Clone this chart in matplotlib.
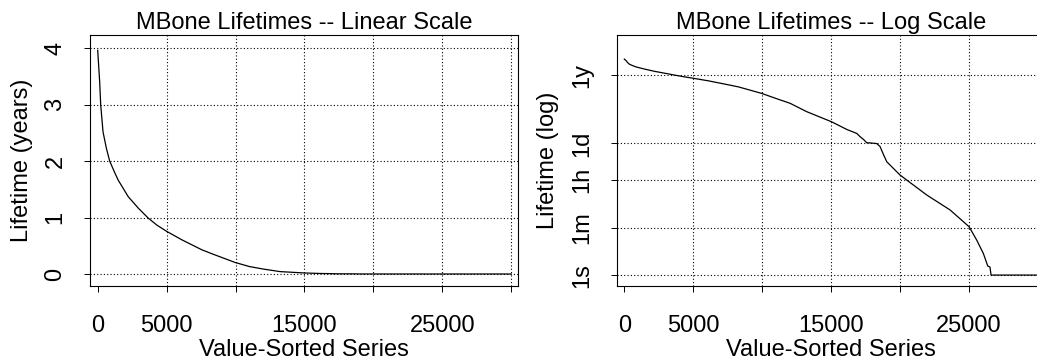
import matplotlib
matplotlib.use("Agg")
import matplotlib.pyplot as plt

plt.rcParams['font.family'] = ['Liberation Sans', 'DejaVu Sans']

# ---- data ----
series_index = [0, 145, 217, 386, 628, 870, 1230, 1495, 2220, 2946, 3672, 4300,
                5007, 6096, 7547, 8273, 9964, 11000, 12017, 13227, 15011, 16127,
                16852, 17090, 17330, 17576, 17815, 18300, 18540, 18780, 19025,
                19990, 21930, 23620, 25000, 25550, 26030, 26350, 26510, 26590,
                30000]
# lifetime as log10(seconds)
lifetime_log10_s = [8.097, 8.030, 7.976, 7.900, 7.847, 7.800, 7.754, 7.719, 7.635,
                    7.566, 7.494, 7.436, 7.377, 7.282, 7.132, 7.055, 6.81, 6.62,
                    6.44, 6.125, 5.75, 5.46, 5.31, 5.19, 5.09, 4.96, 4.955, 4.93,
                    4.82, 4.53, 4.25, 3.75, 3.0, 2.44, 1.81, 1.31, 0.81, 0.34,
                    0.30, 0.0, 0.0]
SECONDS_PER_YEAR = 31536000
lifetime_seconds = [10 ** v for v in lifetime_log10_s]
lifetime_years = [s / SECONDS_PER_YEAR for s in lifetime_seconds]

x_ticks = [0, 5000, 10000, 15000, 20000, 25000, 30000]
x_tick_labels = ["0", "5000", "", "15000", "", "25000", ""]
lin_y_ticks = [0, 1, 2, 3, 4]
lin_y_labels = ["0", "1", "2", "3", "4"]
log_y_ticks = [1, 60, 3600, 86400, 31536000]
log_y_labels = ["1s", "1m", "1h", "1d", "1y"]

titles = ["MBone Lifetimes -- Linear Scale", "MBone Lifetimes -- Log Scale"]
y_labels = ["Lifetime (years)", "Lifetime (log)"]
x_label = "Value-Sorted Series"

W, H = 1037, 360
fig = plt.figure(figsize=(W / 100, H / 100), dpi=100)
ax1 = fig.add_axes([90 / W, 1 - 286 / H, 428 / W, 251 / H])
ax2 = fig.add_axes([617 / W, 1 - 286 / H, 428 / W, 251 / H])

FS = 17
grid_kw = dict(color='black', linewidth=0.8, linestyle=(0, (1, 2)), zorder=1)


def style(ax, yticks, ylabels, title, ylabel):
    ax.set_xticks(x_ticks)
    ax.set_xticklabels(x_tick_labels)
    ax.set_yticks(yticks)
    ax.set_yticklabels(ylabels)
    ax.minorticks_off()
    for xt in x_ticks[1:]:
        ax.axvline(xt, **grid_kw)
    for yt in yticks:
        ax.axhline(yt, **grid_kw)
    for sp in ax.spines.values():
        sp.set_linewidth(0.8)
        sp.set_color('black')
    ax.tick_params(axis='x', direction='out', length=4.3, width=0.7,
                   pad=16.5, labelsize=FS)
    ax.tick_params(axis='y', direction='out', length=4, width=0.7,
                   pad=13, labelsize=FS)
    for lab in ax.get_yticklabels():
        lab.set_rotation(90)
        lab.set_va('center')
        lab.set_ha('right')
    ax.set_title(title, fontsize=FS, pad=4)
    ax.set_xlabel(x_label, fontsize=FS)
    ax.xaxis.set_label_coords(0.5, -0.212)
    ax.set_ylabel(ylabel, fontsize=FS)


# left: linear scale
ax1.plot(series_index, lifetime_years, color='black', linewidth=0.9, zorder=3)
ax1.set_xlim(-559, 30500)
ax1.set_ylim(-0.213, 4.236)
style(ax1, lin_y_ticks, lin_y_labels, titles[0], y_labels[0])
ax1.yaxis.set_label_coords(-0.133, 0.5)

# right: log scale
ax2.plot(series_index, lifetime_seconds, color='black', linewidth=0.9, zorder=3)
ax2.set_yscale('log')
ax2.set_xlim(-530, 30500)
ax2.set_ylim(10 ** -0.41, 1e9)
style(ax2, log_y_ticks, log_y_labels, titles[1], y_labels[1])
ax2.yaxis.set_label_coords(-0.136, 0.5)

fig.savefig("out.png", dpi=100)
